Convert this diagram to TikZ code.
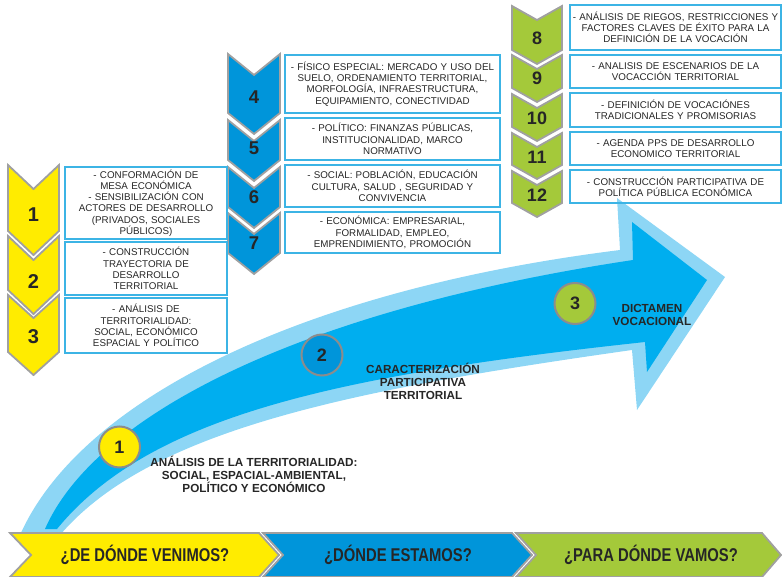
\documentclass[tikz,border=0pt]{standalone}
\usepackage{fontspec}
\setmainfont{Liberation Sans}
\newfontfamily\condfont{Liberation Sans}[FakeStretch=0.8]
\definecolor{ylw}{HTML}{FFEC00}
\definecolor{blu}{HTML}{0095DA}
\definecolor{grn}{HTML}{A4C93A}
\definecolor{arlight}{HTML}{8DD6F5}
\definecolor{ardark}{HTML}{00AEEF}
\definecolor{chevgray}{HTML}{A0A0A0}
\definecolor{circgray}{HTML}{8C8C8C}
\definecolor{boxline}{HTML}{3CB4E5}
\definecolor{txt}{HTML}{262626}
\newcommand{\mychev}[6]{% color, xl, xr, ytop, ybot, depth
  \filldraw[fill=#1, draw=chevgray, line width=1.8pt, line join=miter]
    (#2,#4) -- ({(#2+#3)/2},{#4+#6}) -- (#3,#4) -- (#3,#5) -- ({(#2+#3)/2},{#5+#6}) -- (#2,#5) -- cycle;}
\begin{document}
\begin{tikzpicture}[x=1pt,y=-1pt,
  boxnode/.style={draw=boxline, line width=1.1pt, inner sep=0pt, align=center, text=txt,
    font=\fontsize{9.8}{11.2}\selectfont},
  numnode/.style={text=txt, inner sep=0pt, font=\bfseries\fontsize{18.5}{20}\selectfont},
  circnode/.style={circle, draw=circgray, line width=2pt, minimum size=41pt, inner sep=0pt,
    text=txt, font=\bfseries\fontsize{18}{20}\selectfont},
  lblnode/.style={align=center, text=txt, font=\bfseries\fontsize{11.7}{13.2}\selectfont},
  bannode/.style={text=txt, inner sep=0pt, font=\condfont\bfseries\fontsize{18.5}{20}\selectfont},
  banshape/.style={draw=chevgray, line width=1.8pt, line join=miter}]
\useasboundingbox (0,0) rectangle (782,577);
% big arrow
\fill[arlight] (20,535) .. controls (80,400) and (300,290) .. (620,250) -- (617,198) -- (725,277)
  -- (637,410) -- (632,350) .. controls (350,390) and (150,430) .. (60,535) -- cycle;
\fill[ardark] (45,529) .. controls (95,415) and (300,310) .. (633,260) -- (632,222) -- (707,280)
  -- (647,372) -- (645,342) .. controls (340,375) and (150,415) .. (57,529) -- cycle;
% banner
\filldraw[banshape, fill=ylw] (10,533) -- (259,533) -- (279,555) -- (259,577) -- (10,577) -- (31,555) -- cycle;
\filldraw[banshape, fill=blu] (263,533) -- (512,533) -- (532,555) -- (512,577) -- (263,577) -- (283,555) -- cycle;
\filldraw[banshape, fill=grn] (516,533) -- (762,533) -- (781,555) -- (762,577) -- (516,577) -- (536,555) -- cycle;
\node[bannode] (t1) at (145,555) {¿DE DÓNDE VENIMOS?};
\node[bannode] (t2) at (398,555) {¿DÓNDE ESTAMOS?};
\node[bannode] (t3) at (651,555) {¿PARA DÓNDE VAMOS?};
% yellow chevrons
\mychev{ylw}{8}{59}{165}{231}{24}
\mychev{ylw}{8}{59}{236}{290}{24}
\mychev{ylw}{8}{59}{295}{352}{23}
\node[numnode, font=\bfseries\fontsize{20}{22}\selectfont] (n1) at (33.5,215) {1};
\node[numnode, font=\bfseries\fontsize{20}{22}\selectfont] (n2) at (33.5,282) {2};
\node[numnode, font=\bfseries\fontsize{20}{22}\selectfont] (n3) at (33.5,337) {3};
% blue chevrons
\mychev{blu}{228}{280}{54}{113}{21}
\mychev{blu}{228}{280}{120}{160}{21}
\mychev{blu}{228}{280}{167}{207}{21}
\mychev{blu}{228}{280}{213}{253}{21}
\node[numnode] (n4) at (254,97) {4};
\node[numnode] (n5) at (254,148) {5};
\node[numnode] (n6) at (254,197) {6};
\node[numnode] (n7) at (254,243) {7};
% green chevrons
\mychev{grn}{512}{562}{6}{50}{14}
\mychev{grn}{512}{562}{55}{88}{14}
\mychev{grn}{512}{562}{94}{127}{14}
\mychev{grn}{512}{562}{133}{165}{14}
\mychev{grn}{512}{562}{171}{203}{14}
\node[numnode, font=\bfseries\fontsize{18}{20}\selectfont] (n8) at (537,38) {8};
\node[numnode, font=\bfseries\fontsize{18}{20}\selectfont] (n9) at (537,78) {9};
\node[numnode, font=\bfseries\fontsize{18}{20}\selectfont] (n10) at (537,118) {10};
\node[numnode, font=\bfseries\fontsize{18}{20}\selectfont] (n11) at (537,157) {11};
\node[numnode, font=\bfseries\fontsize{18}{20}\selectfont] (n12) at (537,195) {12};
% yellow boxes
\node[boxnode, text width=162pt, minimum height=72pt] (b1) at (146,203)
  {- CONFORMACIÓN DE\\MESA ECONÓMICA\\- SENSIBILIZACIÓN CON\\ACTORES DE DESARROLLO\\(PRIVADOS, SOCIALES\\PÚBLICOS)};
\node[boxnode, text width=162pt, minimum height=53pt] (b2) at (146,268.5)
  {- CONSTRUCCIÓN\\TRAYECTORIA DE\\DESARROLLO\\TERRITORIAL};
\node[boxnode, text width=162pt, minimum height=55pt] (b3) at (146,325.5)
  {- ANÁLISIS DE\\TERRITORIALIDAD:\\SOCIAL, ECONÓMICO\\ESPACIAL Y POLÍTICO};
% blue boxes
\node[boxnode, text width=215pt, minimum height=58pt] (b4) at (392.5,84)
  {- FÍSICO ESPECIAL: MERCADO Y USO DEL\\SUELO, ORDENAMIENTO TERRITORIAL,\\MORFOLOGÍA, INFRAESTRUCTURA,\\EQUIPAMIENTO, CONECTIVIDAD};
\node[boxnode, text width=215pt, minimum height=42pt] (b5) at (392.5,139)
  {- POLÍTICO: FINANZAS PÚBLICAS,\\INSTITUCIONALIDAD, MARCO\\NORMATIVO};
\node[boxnode, text width=215pt, minimum height=42pt] (b6) at (392.5,186)
  {- SOCIAL: POBLACIÓN, EDUCACIÓN\\CULTURA, SALUD , SEGURIDAD Y\\CONVIVENCIA};
\node[boxnode, text width=215pt, minimum height=41pt] (b7) at (392.5,232.5)
  {- ECONÓMICA: EMPRESARIAL,\\FORMALIDAD, EMPLEO,\\EMPRENDIMIENTO, PROMOCIÓN};
% green boxes
\node[boxnode, text width=211pt, minimum height=45pt] (b8) at (675.5,27.5)
  {- ANÁLISIS DE RIEGOS, RESTRICCIONES Y\\FACTORES CLAVES DE ÉXITO PARA LA\\DEFINICIÓN DE LA VOCACIÓN};
\node[boxnode, text width=211pt, minimum height=33pt] (b9) at (675.5,71.5)
  {- ANALISIS DE ESCENARIOS DE LA\\VOCACCIÓN TERRITORIAL};
\node[boxnode, text width=211pt, minimum height=34pt] (b10) at (675.5,110)
  {- DEFINICIÓN DE VOCACIÓNES\\TRADICIONALES Y PROMISORIAS};
\node[boxnode, text width=211pt, minimum height=33pt] (b11) at (675.5,148.5)
  {- AGENDA PPS DE DESARROLLO\\ECONOMICO TERRITORIAL};
\node[boxnode, text width=211pt, minimum height=33pt] (b12) at (675.5,186.5)
  {- CONSTRUCCIÓN PARTICIPATIVA DE\\POLÍTICA PÚBLICA ECONÓMICA};
% circles and labels
\node[circnode, fill=ylw] (c1) at (119.5,447) {1};
\node[circnode, fill=blu] (c2) at (322,355) {2};
\node[circnode, fill=grn] (c3) at (575,303.5) {3};
\node[lblnode] (l1) at (254,474.5) {ANÁLISIS DE LA TERRITORIALIDAD:\\SOCIAL, ESPACIAL-AMBIENTAL,\\POLÍTICO Y ECONÓMICO};
\node[lblnode] (l2) at (423,381.5) {CARACTERIZACIÓN\\PARTICIPATIVA\\TERRITORIAL};
\node[lblnode] (l3) at (652,315) {DICTAMEN\\VOCACIONAL};
\end{tikzpicture}
\end{document}
